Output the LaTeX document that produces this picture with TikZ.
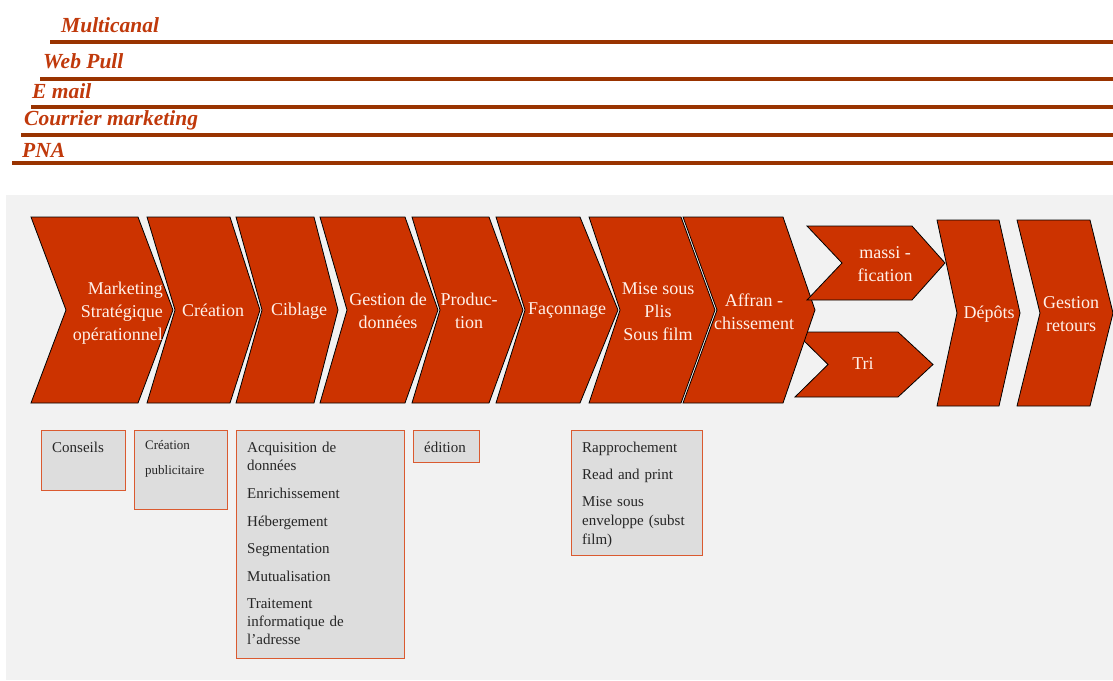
\documentclass[tikz,border=0pt]{standalone}
\usepackage{fontspec}
\setmainfont{Liberation Serif}
\usetikzlibrary{positioning}

\definecolor{brick}{HTML}{CC3300}
\definecolor{rust}{HTML}{993300}
\definecolor{chanred}{HTML}{C0390B}
\definecolor{panel}{HTML}{F2F2F2}
\definecolor{cellfill}{HTML}{DDDDDD}
\definecolor{cellline}{HTML}{DA5A30}
\definecolor{pale}{HTML}{FFF1EA}

\tikzset{
  chev/.style={fill=brick, draw=black, line width=0.8pt},
  steptext/.style={text=pale, font=\fontsize{18}{23}\selectfont, align=center, inner sep=0pt},
  chanlabel/.style={text=chanred, font=\fontsize{21.5}{24}\selectfont\bfseries\itshape, anchor=base west, inner sep=0pt},
  chanrule/.style={draw=rust, line width=3.2pt},
  cell/.style={draw=cellline, fill=cellfill, line width=1.2pt, anchor=north west, inner sep=0pt},
  celltext/.style={anchor=base west, inner sep=0pt, text=black!85, align=left, text width=150pt, font=\fontsize{15}{18}\selectfont},
}

% arrow step: name, left x, notch x, right x, tip x, top y, bottom y
\newcommand{\stepshape}[7]{%
  \draw[chev] (#2,#6) -- (#4,#6) -- (#5,{(#6+#7)/2}) -- (#4,#7) -- (#2,#7) -- (#3,{(#6+#7)/2}) -- cycle;
  \coordinate (#1) at ({(#3+#4)/2},{(#6+#7)/2});
}

\begin{document}
\begin{tikzpicture}[x=1pt, y=-1pt]
    \useasboundingbox (0,0) rectangle (1113,680);

    % channels
    \node[chanlabel] (multi) at (61,32) {Multicanal};
    \draw[chanrule] (50,42) -- (1113,42);
    \node[chanlabel] (webpull) at (43,68) {Web Pull};
    \draw[chanrule] (40,79) -- (1113,79);
    \node[chanlabel] (email) at (32,98) {E mail};
    \draw[chanrule] (31,107) -- (1113,107);
    \node[chanlabel] (courrier) at (24,125) {Courrier marketing};
    \draw[chanrule] (21,135) -- (1113,135);
    \node[chanlabel] (pna) at (22,157) {PNA};
    \draw[chanrule] (12,163) -- (1113,163);

    \fill[panel] (6,195) rectangle (1113,680);

    % value chain
    \stepshape{s-tri}{795}{828}{898}{933}{332}{397}
    \stepshape{s-mkt}{31}{66}{138}{173}{217}{403}
    \stepshape{s-crea}{147}{175}{230}{260}{217}{403}
    \stepshape{s-cibl}{236}{262}{314}{338}{217}{403}
    \stepshape{s-gest}{320}{347}{405}{438}{217}{403}
    \stepshape{s-prod}{412}{440}{489}{523}{217}{403}
    \stepshape{s-faco}{496}{525}{580}{618}{217}{403}
    \stepshape{s-plis}{589}{620}{681}{715}{217}{403}
    \stepshape{s-affr}{683}{717}{783}{815}{217}{403}
    \stepshape{s-mass}{807}{842}{912}{945}{226}{300}
    \stepshape{s-depo}{937}{957}{999}{1020}{220}{406}
    \stepshape{s-reto}{1017}{1040}{1090}{1113}{220}{406}

    \node[steptext, align=right, anchor=east] (mkt) at (163,313) {Marketing\\Stratégique\\opérationnel};
    \node[steptext] (crea) at (213,310) {Création};
    \node[steptext] (cibl) at (299,311) {Ciblage};
    \node[steptext] (gest) at (388,311) {Gestion de\\données};
    \node[steptext] (prod) at (469,311) {Produc-\\tion};
    \node[steptext] (faco) at (567,311) {Façonnage};
    \node[steptext] (plis) at (658,312) {Mise sous\\Plis\\Sous film};
    \node[steptext] (affr) at (754,312) {Affran -\\chissement};
    \node[steptext] (mass) at (885,264) {massi -\\fication};
    \node[steptext] (tri) at (863,364) {Tri};
    \node[steptext] (depo) at (989,314) {Dépôts};
    \node[steptext] (reto) at (1071,314) {Gestion\\retours};

    % activities under the steps
    \node[cell, minimum width=84, minimum height=60] (conseils box) at (41,430) {};
    \node[celltext] (conseils) at (52,452) {Conseils};

    \node[cell, minimum width=93, minimum height=79] (pub box) at (134,430) {};
    \node[celltext, font=\fontsize{13}{25}\selectfont] (pub) at (145,449) {Création\\publicitaire};

    \node[cell, minimum width=168, minimum height=228] (donnees box) at (236,430) {};
    \node[celltext] (donnees) at (247,452) {Acquisition de\\données\\[10pt]Enrichissement\\[10pt]Hébergement\\[9pt]Segmentation\\[10pt]Mutualisation\\[9pt]Traitement\\informatique de\\l’adresse};

    \node[cell, minimum width=66, minimum height=32] (edition box) at (413,430) {};
    \node[celltext] (edition) at (424,452) {édition};

    \node[cell, minimum width=131, minimum height=125] (routage box) at (571,430) {};
    \node[celltext, font=\fontsize{15}{19}\selectfont] (routage) at (582,452) {Rapprochement\\[8pt]Read and print\\[8pt]Mise sous\\enveloppe (subst\\film)};
\end{tikzpicture}
\end{document}
